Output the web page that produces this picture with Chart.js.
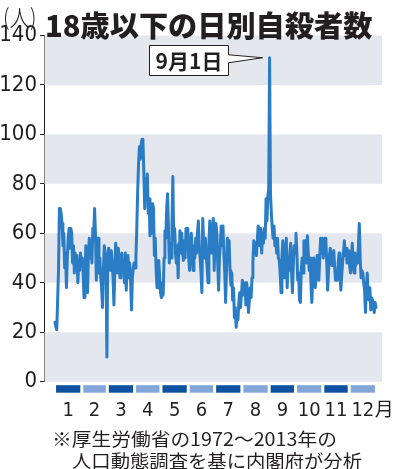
<!DOCTYPE html>
<html><head><meta charset="utf-8">
<script src="https://cdn.jsdelivr.net/npm/chart.js@4"></script>
<style>
html,body{margin:0;padding:0;background:#fff;width:401px;height:469px;overflow:hidden}
#wrap{position:relative;width:401px;height:469px}
canvas{position:absolute;left:0;top:0}
.t{position:absolute;white-space:nowrap;color:#231f20;transform-origin:0 0;line-height:1}
</style></head><body>
<div id="wrap">
<canvas id="c" width="401" height="469"></canvas>
<div class="t fit" data-w="34" style="left:3px;top:-1px;font:300 23px 'Noto Sans CJK JP',sans-serif">(人)</div>
<div class="t fit" data-w="327" style="left:45px;top:3px;font:900 29px 'Noto Sans CJK JP',sans-serif">18歳以下の日別自殺者数</div>
<div class="t fit" data-w="285" style="left:52px;top:425px;font:400 18px 'Noto Sans CJK JP',sans-serif">※厚生労働省の1972～2013年の</div>
<div class="t fit" data-w="290" style="left:72px;top:447px;font:400 18px 'Noto Sans CJK JP',sans-serif">人口動態調査を基に内閣府が分析</div>
</div>
<script>
// ---- data (daily totals, leap-year calendar incl. Feb 29) ----
const jan = [24,22,21,33,45,70,70,68,64,55,60,46,52,38,50,58,62,54,62,60,48,55,44,52,47,51,40,48,45,52,47];
const feb = [50,44,34,40,55,50,36,52,58,50,56,48,62,58,70,60,41,50,58,44,50,42,38,30,45,55,52,48,10];
const mar = [50,54,52,45,53,48,42,31,45,56,50,44,54,46,42,50,52,45,48,40,52,37,46,51,42,48,40,29,42,46,48];
const apr = [46,50,62,77,88,95,90,96,98,97,85,70,82,78,84,68,74,59,66,60,72,70,51,58,45,38,47,49,42,36];
const may = [34,40,35,50,61,58,70,76,62,48,56,50,64,83,58,62,52,48,55,42,56,61,52,60,54,49,57,50,62,55,62];
const jun = [50,45,53,60,52,45,55,50,58,52,60,65,55,50,44,36,66,56,50,58,51,46,40,55,65,60,52,58,66,45];
const jul = [58,64,60,48,37,50,56,63,55,63,52,44,32,45,58,52,57,45,39,44,33,38,26,30,22,28,25,32,36,30,35];
const aug = [41,38,35,40,31,40,36,28,33,38,34,42,48,57,52,56,51,57,63,60,55,62,52,60,56,62,58,74,65,75,78];
const sep = [131,76,68,62,58,63,55,58,52,58,50,49,44,36,50,57,48,42,52,58,38,50,45,52,56,44,36,48,55,52];
const oct = [60,52,41,44,33,32,45,50,44,57,52,57,48,59,52,45,50,40,32,42,50,48,38,45,51,46,41,50,58,52,58];
const nov = [50,56,58,57,48,37,45,51,54,50,47,52,53,46,41,44,41,48,52,45,37,43,48,52,57,51,54,48,50,53];
const dec = [47,44,50,56,48,44,52,47,50,48,55,64,50,42,45,44,40,37,28,38,44,36,33,38,29,34,33,30,28,32,30];
const monthSeries = [jan,feb,mar,apr,may,jun,jul,aug,sep,oct,nov,dec];
const monthLabels = ['1','2','3','4','5','6','7','8','9','10','11','12'];
const monthUnit = '月';
const yTicks = [0,20,40,60,80,100,120,140];
const bands = [[0,20],[40,60],[80,100],[120,140]];
const calloutDay = 245;
const calloutText = '9月1日';

// ---- build ----
const points = [];
const monthRanges = [];
let d = 1;
monthSeries.forEach(arr => {
  const start = d;
  arr.forEach(v => { points.push({x: d, y: v}); d++; });
  monthRanges.push([start, d - 1]);
});

const ink = '#231f20';
const deco = {
  id: 'deco',
  beforeDatasetsDraw(chart) {
    const {ctx, chartArea: a, scales: {y}} = chart;
    ctx.save();
    ctx.fillStyle = 'rgb(229,231,238)';
    bands.forEach(([lo, hi]) => {
      const t = y.getPixelForValue(hi), b = y.getPixelForValue(lo);
      ctx.fillRect(a.left + 0.5, t, a.right - a.left - 0.5, b - t);
    });
    ctx.restore();
  },
  afterDraw(chart) {
    const {ctx, chartArea: a, scales: {x, y}} = chart;
    ctx.save();
    // month bars + labels
    monthRanges.forEach(([s, e], i) => {
      const l = x.getPixelForValue(s - 0.5) + 1.5;
      const r = x.getPixelForValue(e + 0.5) - 1.5;
      ctx.fillStyle = i % 2 === 0 ? '#0e51a1' : '#82a6d8';
      ctx.fillRect(l, a.bottom + 3.5, r - l, 7.5);
      const cx = (l + r) / 2;
      ctx.fillStyle = ink;
      ctx.font = "20px 'Liberation Sans Narrow','DejaVu Sans Condensed',sans-serif";
      ctx.textAlign = 'center';
      ctx.textBaseline = 'alphabetic';
      ctx.fillText(monthLabels[i], cx, a.bottom + 34.5);
      if (i === monthLabels.length - 1) {
        const w = ctx.measureText(monthLabels[i]).width;
        ctx.textAlign = 'left';
        ctx.font = "19px 'Noto Sans CJK JP',sans-serif";
        ctx.fillText(monthUnit, cx + w / 2 + 0.5, a.bottom + 34.5);
      }
    });
    // callout
    const pv = points.find(p => p.x === calloutDay);
    const px = x.getPixelForValue(pv.x), py = y.getPixelForValue(pv.y);
    const right = Math.round(px - 42) + 0.5, left = right - 79;
    const top = Math.round(py - 13) + 0.5, bottom = top + 30;
    ctx.beginPath();
    ctx.moveTo(left, top);
    ctx.lineTo(right, top);
    ctx.lineTo(right, py - 3);
    ctx.lineTo(px - 7, py);
    ctx.lineTo(right, py + 5);
    ctx.lineTo(right, bottom);
    ctx.lineTo(left, bottom);
    ctx.closePath();
    ctx.fillStyle = '#fff';
    ctx.fill();
    ctx.strokeStyle = ink;
    ctx.lineWidth = 1;
    ctx.stroke();
    ctx.fillStyle = ink;
    ctx.font = "700 21px 'Noto Sans CJK JP',sans-serif";
    ctx.textAlign = 'center';
    ctx.textBaseline = 'middle';
    ctx.fillText(calloutText, (left + right) / 2, (top + bottom) / 2 + 1);
    ctx.restore();
  }
};

new Chart(document.getElementById('c'), {
  type: 'line',
  data: { datasets: [{
    data: points,
    borderColor: '#2a7cc4',
    borderWidth: 3,
    pointRadius: 0,
    tension: 0,
    borderJoinStyle: 'round',
    borderCapStyle: 'round'
  }]},
  options: {
    responsive: false,
    devicePixelRatio: 1,
    animation: false,
    layout: { padding: { left: 0, top: 35.5, right: 19, bottom: 87.3 } },
    plugins: { legend: { display: false }, tooltip: { enabled: false } },
    scales: {
      x: { type: 'linear', display: false, min: -11.5, max: 372.8 },
      y: {
        min: 0, max: 140,
        afterBuildTicks(s) { s.ticks = yTicks.map(v => ({value: v})); },
        afterFit(s) { s.width = 44; },
        ticks: { color: ink, padding: 3,
          font: { family: "'Liberation Sans Narrow','DejaVu Sans Condensed',sans-serif", size: 22 } },
        grid: { drawOnChartArea: false, tickLength: 4, color: ink, lineWidth: 1 },
        border: { display: true, color: ink, width: 1 }
      }
    }
  },
  plugins: [deco]
});

function fitText() {
  document.querySelectorAll('.fit').forEach(el => {
    const w = el.offsetWidth;
    if (w > 0) el.style.transform = 'scaleX(' + (parseFloat(el.dataset.w) / w) + ')';
  });
}
fitText();
if (document.fonts && document.fonts.ready) document.fonts.ready.then(fitText);
</script>
</body></html>
